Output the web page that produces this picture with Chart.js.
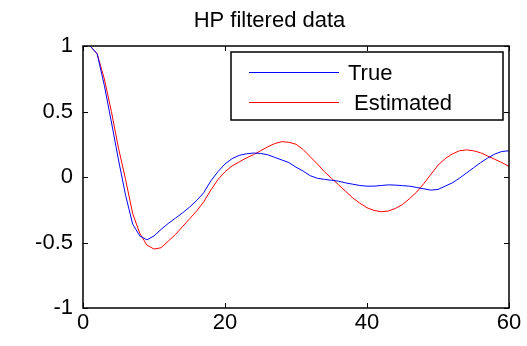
<!DOCTYPE html>
<html>
<head>
<meta charset="utf-8">
<script src="https://cdn.jsdelivr.net/npm/chart.js@4/dist/chart.umd.min.js"></script>
<style>
  html, body { margin: 0; padding: 0; background: #fff; }
  #wrap { width: 527px; height: 346px; }
</style>
</head>
<body>
<div id="wrap"><canvas id="c" width="527" height="346"></canvas></div>
<script>
const xValues = [1,2,3,4,5,6,7,8,9,10,11,12,13,14,15,16,17,18,19,20,21,22,23,24,25,26,27,28,29,30,31,32,33,34,35,36,37,38,39,40,41,42,43,44,45,46,47,48,49,50,51,52,53,54,55,56,57,58,59,60];
const trueValues = [1.0,0.94,0.70,0.42,0.13,-0.14,-0.36,-0.45,-0.48,-0.45,-0.40,-0.355,-0.315,-0.275,-0.23,-0.18,-0.12,-0.03,0.04,0.10,0.14,0.165,0.177,0.183,0.18,0.17,0.15,0.13,0.11,0.075,0.045,0.01,-0.01,-0.018,-0.025,-0.032,-0.045,-0.055,-0.065,-0.07,-0.07,-0.065,-0.06,-0.062,-0.066,-0.07,-0.08,-0.09,-0.10,-0.095,-0.07,-0.045,-0.01,0.03,0.07,0.11,0.145,0.175,0.195,0.20];
const estimatedValues = [1.0,0.94,0.75,0.50,0.22,-0.02,-0.28,-0.43,-0.52,-0.55,-0.54,-0.49,-0.44,-0.38,-0.32,-0.26,-0.19,-0.10,-0.02,0.04,0.085,0.115,0.145,0.17,0.20,0.23,0.255,0.27,0.265,0.25,0.21,0.155,0.10,0.04,-0.01,-0.06,-0.11,-0.16,-0.20,-0.235,-0.255,-0.265,-0.26,-0.24,-0.21,-0.165,-0.115,-0.05,0.02,0.09,0.14,0.175,0.20,0.207,0.20,0.185,0.16,0.135,0.11,0.08];
const seriesLabels = ['True', ' Estimated'];
const seriesColors = ['#0000ff', '#ff0000'];
const xTickValues = [0, 20, 40, 60];
const xTickLabels = ['0', '20', '40', '60'];
const yTickValues = [-1, -0.5, 0, 0.5, 1];
const yTickLabels = ['-1', '-0.5', '0', '0.5', '1'];
const titleText = 'HP filtered data';

const FONT = 'Liberation Sans, Arial, Helvetica, sans-serif';

function pts(ys) { return xValues.map((x, i) => ({ x: x, y: ys[i] })); }

const framePlugin = {
  id: 'frame',
  afterDraw(chart) {
    const ctx = chart.ctx;
    const xs = chart.scales.x, ys = chart.scales.y;
    const L = xs.getPixelForValue(0), R = xs.getPixelForValue(60);
    const T = ys.getPixelForValue(1), B = ys.getPixelForValue(-1);
    ctx.save();
    ctx.strokeStyle = '#000';
    ctx.lineWidth = 1.5;
    ctx.strokeRect(L, T, R - L, B - T);
    ctx.lineWidth = 1;
    const tl = 5;
    ctx.beginPath();
    yTickValues.forEach(v => {
      const y = Math.round(ys.getPixelForValue(v)) + 0.5;
      ctx.moveTo(L, y); ctx.lineTo(L + tl, y);
      ctx.moveTo(R, y); ctx.lineTo(R - tl, y);
    });
    xTickValues.forEach(v => {
      const x = Math.round(xs.getPixelForValue(v)) + 0.5;
      ctx.moveTo(x, B); ctx.lineTo(x, B - tl);
      ctx.moveTo(x, T); ctx.lineTo(x, T + tl);
    });
    ctx.stroke();

    // legend box
    const bx = 231, by = 52, bw = 272, bh = 68;
    ctx.fillStyle = '#fff';
    ctx.fillRect(bx, by, bw, bh);
    ctx.lineWidth = 1.5;
    ctx.strokeRect(bx, by, bw, bh);
    const rows = [72.5, 102.5];
    const textX = [348, 348];
    ctx.font = '22px ' + FONT;
    ctx.textBaseline = 'middle';
    ctx.textAlign = 'left';
    chart.data.datasets.forEach((ds, i) => {
      ctx.strokeStyle = ds.borderColor;
      ctx.lineWidth = 1;
      ctx.beginPath();
      ctx.moveTo(249, rows[i]); ctx.lineTo(339, rows[i]);
      ctx.stroke();
      ctx.fillStyle = '#000';
      ctx.fillText(ds.label, textX[i], rows[i] + 1);
    });
    ctx.restore();
  }
};

new Chart(document.getElementById('c'), {
  type: 'line',
  data: {
    datasets: [
      { label: seriesLabels[0], data: pts(trueValues), borderColor: seriesColors[0], borderWidth: 1, pointRadius: 0, tension: 0, fill: false },
      { label: seriesLabels[1], data: pts(estimatedValues), borderColor: seriesColors[1], borderWidth: 1, pointRadius: 0, tension: 0, fill: false }
    ]
  },
  options: {
    responsive: false,
    animation: false,
    devicePixelRatio: 1,
    layout: { padding: { left: 30, right: 18, top: 0, bottom: 0 } },
    plugins: {
      legend: { display: false },
      tooltip: { enabled: false },
      title: {
        display: true,
        text: titleText,
        color: '#000',
        font: { family: FONT, size: 22, weight: 'normal' },
        padding: { top: 8, bottom: 11.6 }
      }
    },
    scales: {
      x: {
        type: 'linear', min: 0, max: 60,
        afterBuildTicks: s => { s.ticks = xTickValues.map(v => ({ value: v })); },
        ticks: { color: '#000', font: { family: FONT, size: 22 }, padding: 2, maxRotation: 0,
                 callback: (v) => xTickLabels[xTickValues.indexOf(v)] },
        grid: { display: false, drawTicks: false },
        border: { display: false },
        afterFit: s => { s.height = 38; }
      },
      y: {
        type: 'linear', min: -1, max: 1,
        afterBuildTicks: s => { s.ticks = yTickValues.map(v => ({ value: v })); },
        ticks: { color: '#000', font: { family: FONT, size: 22 }, padding: 10,
                 callback: (v) => yTickLabels[yTickValues.indexOf(v)] },
        grid: { display: false, drawTicks: false },
        border: { display: false },
        afterFit: s => { s.width = 53; }
      }
    }
  },
  plugins: [framePlugin]
});
</script>
</body>
</html>
